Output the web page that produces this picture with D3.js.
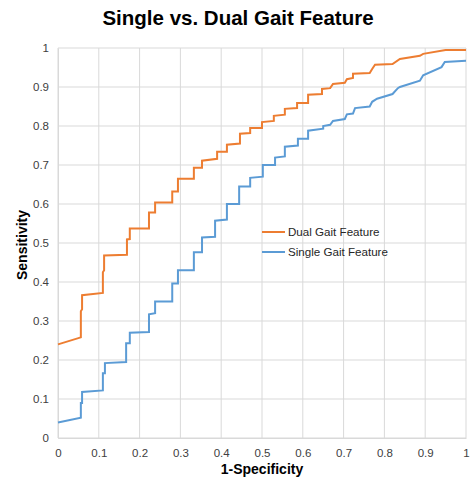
<!DOCTYPE html>
<html>
<head>
<meta charset="utf-8">
<script src="https://cdn.jsdelivr.net/npm/d3@7"></script>
<style>
  body { margin: 0; background: #fff; }
  text { font-family: "Liberation Sans", Arial, sans-serif; }
</style>
</head>
<body>
<div id="chart"></div>
<script>
// ROC curves (x = 1-specificity, y = sensitivity)
var dualX = [0, 0.056, 0.056, 0.059, 0.059, 0.11, 0.11, 0.113, 0.113, 0.169, 0.169, 0.176, 0.176, 0.223, 0.223, 0.238, 0.238, 0.28, 0.28, 0.294, 0.294, 0.333, 0.333, 0.353, 0.353, 0.39, 0.39, 0.414, 0.414, 0.446, 0.446, 0.471, 0.471, 0.5, 0.5, 0.529, 0.529, 0.556, 0.556, 0.586, 0.586, 0.613, 0.613, 0.647, 0.647, 0.667, 0.674, 0.703, 0.708, 0.723, 0.723, 0.764, 0.77, 0.777, 0.82, 0.838, 0.887, 0.895, 0.95, 1];
var dualY = [0.24, 0.258, 0.325, 0.33, 0.366, 0.372, 0.425, 0.43, 0.468, 0.47, 0.509, 0.51, 0.537, 0.537, 0.578, 0.578, 0.604, 0.604, 0.632, 0.632, 0.665, 0.665, 0.693, 0.693, 0.711, 0.716, 0.734, 0.734, 0.752, 0.755, 0.78, 0.782, 0.795, 0.795, 0.81, 0.813, 0.826, 0.829, 0.844, 0.846, 0.859, 0.859, 0.88, 0.882, 0.895, 0.897, 0.908, 0.911, 0.92, 0.923, 0.934, 0.936, 0.946, 0.957, 0.959, 0.972, 0.98, 0.985, 0.995, 0.995];

var singleX = [0, 0.056, 0.056, 0.059, 0.059, 0.11, 0.11, 0.115, 0.115, 0.167, 0.167, 0.176, 0.176, 0.223, 0.223, 0.238, 0.238, 0.28, 0.28, 0.294, 0.294, 0.333, 0.333, 0.353, 0.353, 0.385, 0.385, 0.414, 0.414, 0.444, 0.444, 0.471, 0.471, 0.502, 0.502, 0.532, 0.532, 0.556, 0.556, 0.588, 0.588, 0.613, 0.613, 0.65, 0.65, 0.667, 0.674, 0.703, 0.708, 0.723, 0.728, 0.764, 0.77, 0.782, 0.82, 0.833, 0.838, 0.887, 0.895, 0.94, 0.948, 1];
var singleY = [0.04, 0.052, 0.09, 0.09, 0.118, 0.122, 0.166, 0.166, 0.192, 0.195, 0.243, 0.243, 0.27, 0.272, 0.317, 0.32, 0.35, 0.35, 0.396, 0.396, 0.43, 0.43, 0.476, 0.476, 0.514, 0.516, 0.557, 0.56, 0.6, 0.6, 0.645, 0.645, 0.667, 0.67, 0.7, 0.7, 0.719, 0.722, 0.747, 0.75, 0.767, 0.767, 0.788, 0.793, 0.8, 0.803, 0.813, 0.818, 0.83, 0.832, 0.846, 0.85, 0.862, 0.87, 0.882, 0.897, 0.9, 0.916, 0.93, 0.951, 0.964, 0.967];

var seriesNames = ['Dual Gait Feature', 'Single Gait Feature'];
var xTicks = [0, 0.1, 0.2, 0.3, 0.4, 0.5, 0.6, 0.7, 0.8, 0.9, 1];
var yTicks = [0, 0.1, 0.2, 0.3, 0.4, 0.5, 0.6, 0.7, 0.8, 0.9, 1];

var width = 471, height = 482;
var margin = {top: 48, right: 5, bottom: 44, left: 58};
var dualColor = '#ED7D31';
var singleColor = '#5B9BD5';
var gridColor = '#d9d9d9';

var svg = d3.select('#chart').append('svg')
    .attr('width', width)
    .attr('height', height);

var x = d3.scaleLinear().domain([0, 1]).range([margin.left, width - margin.right]);
var y = d3.scaleLinear().domain([0, 1]).range([height - margin.bottom, margin.top]);

// grid
svg.append('g')
    .selectAll('line.vg')
    .data(xTicks)
    .enter()
    .append('line')
    .attr('x1', function (d) { return x(d) })
    .attr('x2', function (d) { return x(d) })
    .attr('y1', y(0))
    .attr('y2', y(1))
    .style('stroke', gridColor)
    .style('stroke-width', '1px')

svg.append('g')
    .selectAll('line.hg')
    .data(yTicks)
    .enter()
    .append('line')
    .attr('x1', x(0))
    .attr('x2', x(1))
    .attr('y1', function (d) { return y(d) })
    .attr('y2', function (d) { return y(d) })
    .style('stroke', gridColor)
    .style('stroke-width', '1px')

// axes
var xAxis = svg.append('g')
    .attr('transform', 'translate(0,' + y(0) + ')')
    .call(d3.axisBottom(x).tickValues(xTicks).tickSize(0).tickPadding(11).tickFormat(d3.format('')));
var yAxis = svg.append('g')
    .attr('transform', 'translate(' + x(0) + ',0)')
    .call(d3.axisLeft(y).tickValues(yTicks).tickSize(0).tickPadding(9).tickFormat(d3.format('')));

[xAxis, yAxis].forEach(function (a) {
    a.select('.domain').style('stroke', gridColor);
    a.selectAll('text')
        .style('font-size', '11.5px')
        .style('fill', '#404040')
        .style('font-family', '"Liberation Sans", Arial, sans-serif');
});

// lines
var line = d3.line()
    .x(function (d) { return x(d[0]) })
    .y(function (d) { return y(d[1]) });

var dualPts = d3.zip(dualX, dualY);
var singlePts = d3.zip(singleX, singleY);

svg.append('path')
    .datum(singlePts)
    .attr('d', line)
    .style('fill', 'none')
    .style('stroke', singleColor)
    .style('stroke-width', '2px')

svg.append('path')
    .datum(dualPts)
    .attr('d', line)
    .style('fill', 'none')
    .style('stroke', dualColor)
    .style('stroke-width', '2px')

// legend
var legend = svg.append('g')
    .selectAll('g')
    .data(seriesNames)
    .enter()
    .append('g')
    .attr('transform', function (d, i) { return 'translate(262,' + (232 + i * 20) + ')' })

legend.append('line')
    .attr('x1', 0)
    .attr('x2', 23)
    .style('stroke', function (d, i) { return i == 0 ? dualColor : singleColor })
    .style('stroke-width', '2px')

legend.append('text')
    .attr('x', 26)
    .attr('y', 4)
    .style('font-size', '11.6px')
    .style('fill', '#262626')
    .text(function (d) { return d })

// titles
svg.append('text')
    .attr('x', 238)
    .attr('y', 25)
    .attr('text-anchor', 'middle')
    .style('font-size', '20.5px')
    .style('font-weight', 'bold')
    .style('fill', '#000')
    .text('Single vs. Dual Gait Feature')

svg.append('text')
    .attr('x', (x(0) + x(1)) / 2)
    .attr('y', 474)
    .attr('text-anchor', 'middle')
    .style('font-size', '14px')
    .style('font-weight', 'bold')
    .style('fill', '#000')
    .text('1-Specificity')

svg.append('text')
    .attr('transform', 'translate(27,' + (y(0.5) + 2) + ') rotate(-90)')
    .attr('text-anchor', 'middle')
    .style('font-size', '14px')
    .style('font-weight', 'bold')
    .style('fill', '#000')
    .text('Sensitivity')
</script>
</body>
</html>
